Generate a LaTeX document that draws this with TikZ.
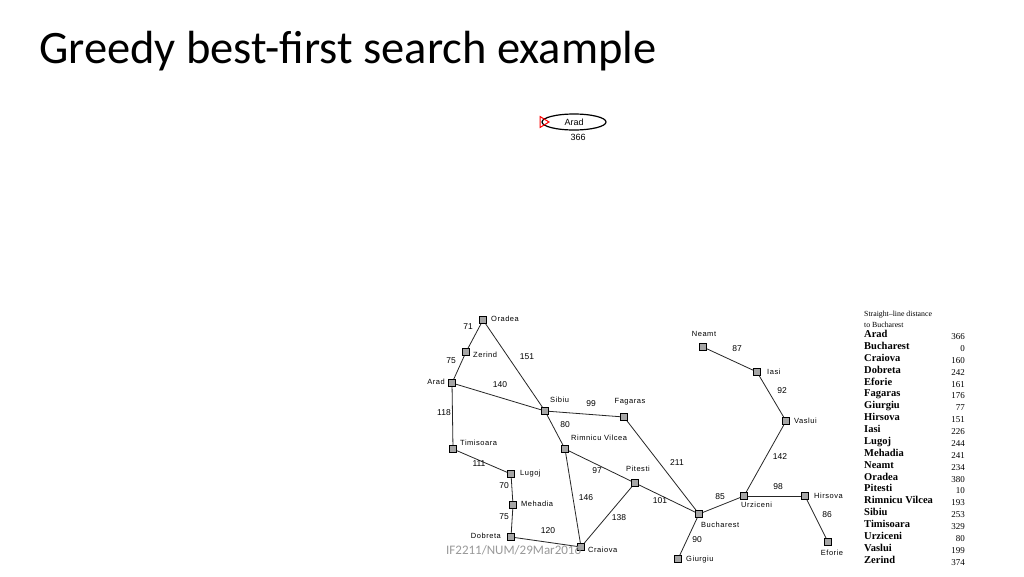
\documentclass[tikz,border=0pt]{standalone}
\usepackage{fontspec}
\setmainfont{Carlito}
\newfontfamily\mapfont[LetterSpace=7]{Liberation Sans}
\newfontfamily\numfont{Liberation Sans}
\newfontfamily\tabfont{Liberation Serif}
\usetikzlibrary{shapes.geometric}
\begin{document}
\begin{tikzpicture}[x=1pt,y=-1pt,
  city/.style={draw=black,fill=black!35,line width=1.2pt,minimum size=6.5pt,inner sep=0pt,rectangle},
  road/.style={draw=black!85,line width=0.8pt},
  clab/.style={font=\mapfont\fontsize{7.5}{8}\selectfont,inner sep=0pt},
  dlab/.style={font=\numfont\fontsize{8.5}{9}\selectfont,inner sep=0pt},
  tname/.style={font=\tabfont\bfseries\fontsize{10.5}{11}\selectfont,anchor=base west,inner sep=0pt},
  tnum/.style={font=\tabfont\fontsize{9}{10}\selectfont,anchor=base east,inner sep=0pt},
  thead/.style={font=\tabfont\fontsize{7.8}{8}\selectfont,anchor=base west,inner sep=0pt},
  treenode/.style={draw=black,line width=1.2pt,ellipse,minimum width=64pt,minimum height=16pt,inner sep=0pt,font=\numfont\fontsize{9}{10}\selectfont}
]
\useasboundingbox[fill=white] (0,0) rectangle (1024,576);

% title
\node[anchor=base west,inner sep=0pt,font=\fontsize{46.5}{50}\selectfont] (title) at (39,63) {Greedy best-first search example};

% search tree
\node[treenode] (arad0) at (574,122) {Arad};
\node[font=\numfont\fontsize{9}{10}\selectfont,inner sep=0pt] (h0) at (578,137) {366};
\draw[draw=red,line width=1pt] (540,116.5) -- (549,122) -- (540,127.5) -- cycle;

% map cities
\node[city] (Or) at (483,320) {};
\node[city] (Ze) at (466,352) {};
\node[city] (Ar) at (452,383) {};
\node[city] (Si) at (545,411) {};
\node[city] (Fa) at (624,417) {};
\node[city] (Ti) at (453,449) {};
\node[city] (Ri) at (565,449) {};
\node[city] (Lu) at (511,474) {};
\node[city] (Me) at (513,505) {};
\node[city] (Do) at (511,537) {};
\node[city] (Cr) at (581,547) {};
\node[city] (Pi) at (635,483) {};
\node[city] (Bu) at (699,514) {};
\node[city] (Gi) at (678,559) {};
\node[city] (Ur) at (744,496) {};
\node[city] (Hi) at (805,496) {};
\node[city] (Ef) at (828,542) {};
\node[city] (Va) at (786,421) {};
\node[city] (Ia) at (757,372) {};
\node[city] (Ne) at (703,347) {};

% roads
\draw[road] (Or) -- (Ze);
\draw[road] (Ze) -- (Ar);
\draw[road] (Or) -- (Si);
\draw[road] (Ar) -- (Si);
\draw[road] (Ar) -- (Ti);
\draw[road] (Si) -- (Fa);
\draw[road] (Si) -- (Ri);
\draw[road] (Ti) -- (Lu);
\draw[road] (Lu) -- (Me);
\draw[road] (Me) -- (Do);
\draw[road] (Do) -- (Cr);
\draw[road] (Ri) -- (Cr);
\draw[road] (Ri) -- (Pi);
\draw[road] (Cr) -- (Pi);
\draw[road] (Pi) -- (Bu);
\draw[road] (Fa) -- (Bu);
\draw[road] (Bu) -- (Gi);
\draw[road] (Bu) -- (Ur);
\draw[road] (Ur) -- (Hi);
\draw[road] (Hi) -- (Ef);
\draw[road] (Ur) -- (Va);
\draw[road] (Va) -- (Ia);
\draw[road] (Ia) -- (Ne);

% city labels
\node[clab,anchor=west] (lOr) at (491,319) {Oradea};
\node[clab,anchor=west] (lZe) at (473,355) {Zerind};
\node[clab,anchor=east] (lAr) at (445,382) {Arad};
\node[clab,anchor=west] (lSi) at (550,400) {Sibiu};
\node[clab] (lFa) at (630,402) {Fagaras};
\node[clab,anchor=west] (lRi) at (571,438) {Rimnicu Vilcea};
\node[clab,anchor=west] (lTi) at (460,443) {Timisoara};
\node[clab,anchor=west] (lLu) at (520,474) {Lugoj};
\node[clab,anchor=west] (lMe) at (521,504) {Mehadia};
\node[clab,anchor=east] (lDo) at (501,536) {Dobreta};
\node[clab,anchor=west] (lCr) at (588,550) {Craiova};
\node[clab] (lPi) at (638,469) {Pitesti};
\node[clab,anchor=west] (lBu) at (701,525) {Bucharest};
\node[clab,anchor=west] (lUr) at (741,505) {Urziceni};
\node[clab,anchor=west] (lHi) at (814,496) {Hirsova};
\node[clab] (lEf) at (832,553) {Eforie};
\node[clab,anchor=west] (lGi) at (686,560) {Giurgiu};
\node[clab,anchor=west] (lVa) at (794,421) {Vaslui};
\node[clab,anchor=west] (lIa) at (767,372) {Iasi};
\node[clab] (lNe) at (704,334) {Neamt};

% distances
\node[dlab] (d71) at (468,327) {71};
\node[dlab] (d75a) at (451,361) {75};
\node[dlab] (d151) at (527,357) {151};
\node[dlab] (d140) at (500,385) {140};
\node[dlab] (d118) at (444,413) {118};
\node[dlab] (d99) at (591,404) {99};
\node[dlab] (d80) at (565,425) {80};
\node[dlab] (d111) at (479,464) {111};
\node[dlab] (d70) at (504,486) {70};
\node[dlab] (d75b) at (504,517) {75};
\node[dlab] (d120) at (548,531) {120};
\node[dlab] (d146) at (586,498) {146};
\node[dlab] (d97) at (597,471) {97};
\node[dlab] (d138) at (619,518) {138};
\node[dlab] (d101) at (660,501) {101};
\node[dlab] (d211) at (677,463) {211};
\node[dlab] (d85) at (720,497) {85};
\node[dlab] (d90) at (697,540) {90};
\node[dlab] (d87) at (737,349) {87};
\node[dlab] (d92) at (782,391) {92};
\node[dlab] (d142) at (780,457) {142};
\node[dlab] (d98) at (778,487) {98};
\node[dlab] (d86) at (827,515) {86};

% table
\node[thead] (th1) at (864,316) {Straight–line distance};
\node[thead] (th2) at (864,327) {to Bucharest};
\foreach \n/\v [count=\i from 0] in {Arad/366,Bucharest/0,Craiova/160,Dobreta/242,Eforie/161,Fagaras/176,Giurgiu/77,Hirsova/151,Iasi/226,Lugoj/244,Mehadia/241,Neamt/234,Oradea/380,Pitesti/10,Rimnicu Vilcea/193,Sibiu/253,Timisoara/329,Urziceni/80,Vaslui/199,Zerind/374}{
  \node[tname] (tn\i) at (864,{337.5+11.88*\i}) {\n};
  \node[tnum] (tv\i) at (965,{339.5+11.88*\i}) {\v};
}

% footer
\node[anchor=west,inner sep=0pt,text=black!40,font=\fontsize{13}{14}\selectfont] (foot) at (446,550) {IF2211/NUM/29Mar2016};
\end{tikzpicture}
\end{document}
